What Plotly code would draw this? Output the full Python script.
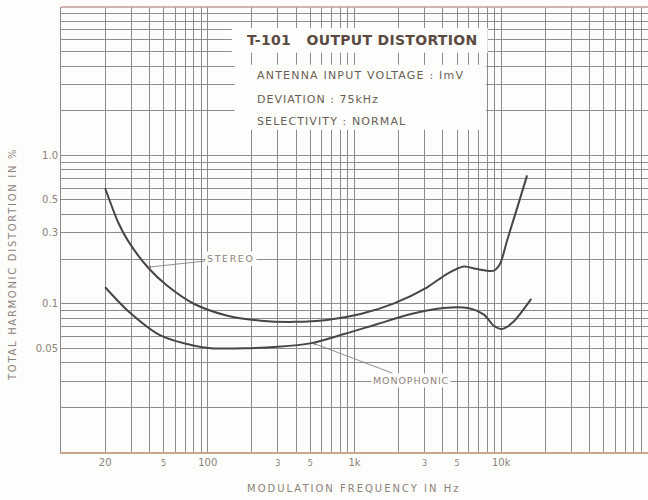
import numpy as np
import plotly.graph_objects as go

# Measured total harmonic distortion (%) versus modulation frequency (Hz)
freq_stereo = [20, 24.5, 28.5, 39, 53, 81, 136, 230, 390, 650, 1100, 1860,
               3130, 4280, 5560, 6850, 8900, 9800, 11000, 13000, 15000]
thd_stereo = [0.60, 0.354, 0.267, 0.176, 0.132, 0.0995, 0.083, 0.0768,
              0.0754, 0.0776, 0.0851, 0.1005, 0.129, 0.159, 0.178, 0.171,
              0.167, 0.185, 0.27, 0.46, 0.733]

freq_mono = [20, 28.5, 48, 81, 105, 177, 300, 500, 850, 1440, 2430, 4050,
             5900, 7650, 8900, 10100, 12000, 16000]
thd_mono = [0.129, 0.0897, 0.0608, 0.052, 0.0501, 0.050, 0.0512, 0.054,
            0.0624, 0.073, 0.0851, 0.0935, 0.0934, 0.084, 0.071, 0.0675,
            0.0748, 0.1076]

# Tick labels shown on the log paper
x_label_vals = [20, 50, 100, 300, 500, 1000, 3000, 5000, 10000]
x_label_text = ["20", "5", "100", "3", "5", "1k", "3", "5", "10k"]
y_label_vals = [1.0, 0.5, 0.3, 0.1, 0.05]
y_label_text = ["1.0", "0.5", "0.3", "0.1", "0.05"]

# Arrow targets for the curve labels
stereo_mark = (39, 0.176)
mono_mark = (521, 0.0542)

INK = "#4a4545"
LABEL = "#8d827a"
TEXT = "#6b5d55"
GRID = "#8e8c8a"
PAPER = "#fdfdfb"
FONT = "DejaVu Sans"


def log_grid(lo_exp, hi_exp):
    vals = []
    for e in range(lo_exp, hi_exp):
        for m in range(1, 10):
            vals.append(m * 10 ** e)
    vals.append(10 ** hi_exp)
    return vals


def spaced(t, px):
    return f"<span style='letter-spacing:{px}px'>{t}</span>"


def small(t):
    return f"<span style='font-size:8px'>{t}</span>"


xgrid = log_grid(1, 5)
ygrid = log_grid(-2, 1)

xtext = []
for v in xgrid:
    hit = [np.isclose(v, xv) for xv in x_label_vals]
    if any(hit):
        t = x_label_text[hit.index(True)]
        xtext.append(small(t) if len(t) == 1 else t)
    else:
        xtext.append("")

ytext = []
for v in ygrid:
    hit = [np.isclose(v, yv) for yv in y_label_vals]
    ytext.append(y_label_text[hit.index(True)] if any(hit) else "")

fig = go.Figure()
fig.add_trace(go.Scatter(x=freq_stereo, y=thd_stereo, mode="lines",
                         line=dict(color=INK, width=2, shape="spline", smoothing=0.8),
                         name="STEREO", showlegend=False))
fig.add_trace(go.Scatter(x=freq_mono, y=thd_mono, mode="lines",
                         line=dict(color=INK, width=2, shape="spline", smoothing=0.8),
                         name="MONOPHONIC", showlegend=False))

fig.update_xaxes(type="log", range=[1, 5], tickvals=xgrid, ticktext=xtext,
                 showgrid=True, gridcolor=GRID, gridwidth=1, zeroline=False,
                 ticks="", tickfont=dict(family=FONT, size=10, color=LABEL),
                 showline=True, linecolor="#c9a58a", linewidth=2, mirror=False)
fig.update_yaxes(type="log", range=[-2, 1], tickvals=ygrid, ticktext=ytext,
                 showgrid=True, gridcolor=GRID, gridwidth=1, zeroline=False,
                 ticks="", tickfont=dict(family=FONT, size=10, color=LABEL),
                 showline=True, linecolor="#8a8a8a", linewidth=1)

# Top frame line
fig.add_shape(type="line", xref="paper", yref="paper", x0=0, x1=1, y0=1, y1=1,
              line=dict(color="#c79a9a", width=1.5))

# White panels carrying the title and test conditions
for x0, x1, y0, y1 in [(0.291, 0.727, 0.897, 0.953), (0.296, 0.724, 0.724, 0.870)]:
    fig.add_shape(type="rect", xref="paper", yref="paper", x0=x0, x1=x1, y0=y0, y1=y1,
                  fillcolor=PAPER, line=dict(width=0), layer="above")

ann = [
    dict(text="<b>" + spaced("T-101\u00a0\u00a0\u00a0OUTPUT DISTORTION", 0.3) + "</b>",
         x=0.513, y=0.926, font=dict(family=FONT, size=14, color="#5b4a42")),
    dict(text=spaced("ANTENNA INPUT VOLTAGE : ImV", 1.2), x=0.3305, y=0.847, xanchor="left",
         font=dict(family=FONT, size=11, color=TEXT)),
    dict(text=spaced("DEVIATION : 75kHz", 1.0), x=0.3305, y=0.793, xanchor="left",
         font=dict(family=FONT, size=11, color=TEXT)),
    dict(text=spaced("SELECTIVITY : NORMAL", 1.1), x=0.3305, y=0.742, xanchor="left",
         font=dict(family=FONT, size=11, color=TEXT)),
    dict(text=spaced("MODULATION FREQUENCY IN Hz", 2.0), x=0.498, y=-0.081,
         font=dict(family=FONT, size=10, color=LABEL)),
    dict(text=spaced("TOTAL HARMONIC DISTORTION IN %", 1.7), x=-0.0818, y=0.4225,
         textangle=-90, font=dict(family=FONT, size=10, color=LABEL)),
]
for a in ann:
    a.setdefault("xanchor", "center")
    fig.add_annotation(xref="paper", yref="paper", showarrow=False, yanchor="middle", **a)

fig.add_annotation(x=np.log10(stereo_mark[0]), y=np.log10(stereo_mark[1]), xref="x", yref="y",
                   text=spaced("STEREO", 1.6), showarrow=True, ax=83, ay=-9, arrowhead=2,
                   arrowsize=0.8, arrowwidth=0.8, arrowcolor="#7a7470", bgcolor=PAPER,
                   font=dict(family=FONT, size=9.5, color=LABEL))
fig.add_annotation(x=np.log10(mono_mark[0]), y=np.log10(mono_mark[1]), xref="x", yref="y",
                   text=spaced("MONOPHONIC", 0.9), showarrow=True, ax=98, ay=37, arrowhead=2,
                   arrowsize=0.8, arrowwidth=0.8, arrowcolor="#7a7470", bgcolor=PAPER,
                   font=dict(family=FONT, size=9.5, color=LABEL))

fig.update_layout(width=648, height=500, margin=dict(l=61, r=0, t=7, b=48),
                  paper_bgcolor=PAPER, plot_bgcolor=PAPER)

fig.write_html("out.html")
